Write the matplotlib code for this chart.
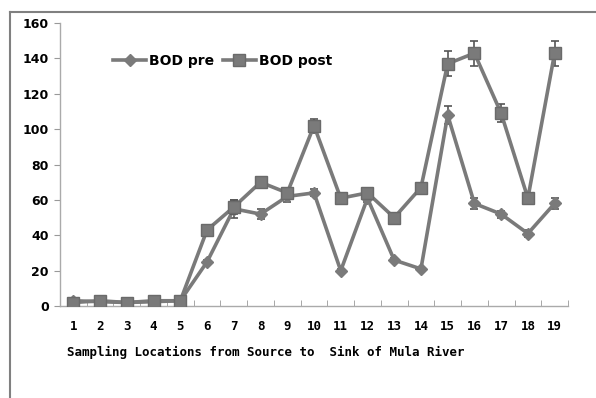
import matplotlib
matplotlib.use("Agg")
import matplotlib.pyplot as plt
from matplotlib.lines import Line2D
import numpy as np

# ── Data ──────────────────────────────────────────────────────────────────────
locations = list(range(1, 20))
bod_pre = [3, 2.5, 2, 2.5, 3, 25, 55, 52, 62, 64, 20, 61, 26, 21, 108, 58, 52, 41, 58]
bod_post = [2, 3, 2, 3, 3, 43, 56, 70, 64, 102, 61, 64, 50, 67, 137, 143, 109, 61, 143]
err_pre = [1, 1, 1, 1, 1, 1, 5, 3, 3, 2, 1, 2, 1, 1, 5, 3, 2, 2, 3]
err_post = [1, 1, 1, 1, 1, 2, 4, 3, 3, 4, 2, 2, 1, 2, 7, 7, 5, 2, 7]
y_ticks = [0, 20, 40, 60, 80, 100, 120, 140, 160]

GRAY = '#7a7a7a'

fig = plt.figure(figsize=(5.96, 3.98), dpi=100)
ax = fig.add_axes([0.1007, 0.231, 0.8523, 0.711])

ax.errorbar(locations, bod_pre, yerr=err_pre, color=GRAY, lw=2.6,
            marker='D', ms=6, mfc=GRAY, mec=GRAY, ecolor='#555555',
            elinewidth=1.2, capsize=3, capthick=1.2, zorder=3)
ax.errorbar(locations, bod_post, yerr=err_post, color=GRAY, lw=2.6,
            marker='s', ms=9, mfc=GRAY, mec='#6a6a6a', ecolor='#555555',
            elinewidth=1.2, capsize=3, capthick=1.2, zorder=4)

ax.set_xlim(0.5, 19.5)
ax.set_ylim(0, 160)
ax.set_yticks(y_ticks)
ax.set_yticklabels([str(v) for v in y_ticks], fontsize=9, fontweight='bold')
ax.set_xticks(locations)
ax.set_xticklabels([str(v) for v in locations], fontsize=9,
                   fontweight='bold', family='DejaVu Sans Mono')
ax.set_xticks(np.arange(0.5, 20, 1), minor=True)
ax.tick_params(axis='x', which='major', length=0, pad=10)
ax.tick_params(axis='x', which='minor', length=4, color='#999999', direction='in')
ax.tick_params(axis='y', length=4, color='#999999', pad=4)

for s in ['top', 'right']:
    ax.spines[s].set_visible(False)
for s in ['left', 'bottom']:
    ax.spines[s].set_color('#aaaaaa')
    ax.spines[s].set_linewidth(1.0)

ax.set_xlabel('Sampling Locations from Source to  Sink of Mula River',
              fontsize=9, fontweight='bold', family='DejaVu Sans Mono')
ax.xaxis.set_label_coords(0.405, -0.14)

handles = [
    Line2D([], [], color=GRAY, lw=2.6, marker='D', ms=6, mfc=GRAY, mec=GRAY),
    Line2D([], [], color=GRAY, lw=2.6, marker='s', ms=9, mfc=GRAY, mec='#6a6a6a'),
]
ax.legend(handles, ['BOD pre', 'BOD post'], loc='upper left',
          bbox_to_anchor=(0.08, 0.935), ncol=2, frameon=False,
          prop={'weight': 'bold', 'size': 10}, handlelength=2.4,
          handletextpad=0.2, columnspacing=0.6)

# outer frame (top and left edges)
fig.add_artist(Line2D([10 / 596, 1.0], [1 - 12 / 398] * 2,
                      transform=fig.transFigure, color='#808080', lw=1.5))
fig.add_artist(Line2D([10 / 596] * 2, [0, 1 - 12 / 398],
                      transform=fig.transFigure, color='#808080', lw=1.5))

fig.savefig('out.png', dpi=100)
